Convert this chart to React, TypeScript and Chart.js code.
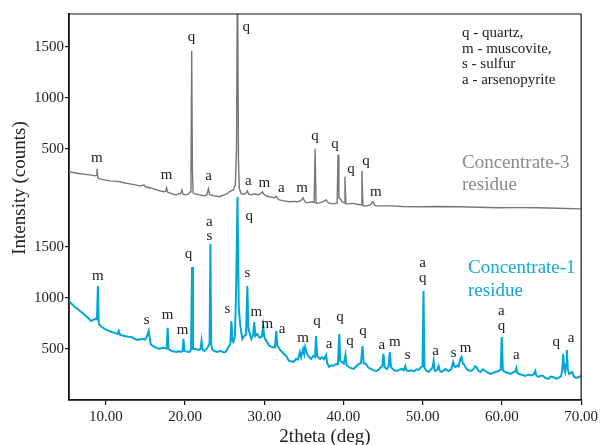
import React, { useEffect, useRef } from "react";
import { Chart, registerables } from "chart.js";

Chart.register(...registerables);

// ---- data ----
const UPPER_OFFSET = 1960; // vertical offset of the Concentrate-3 trace (counts)
const Y_TICKS = [500, 1000, 1500];
const X_TICKS = [10, 20, 30, 40, 50, 60, 70];

// Concentrate-3 residue (grey, upper trace): [2theta, counts relative to its own axis labels]
const concentrate3: [number, number][] = [
  [5.35, 275], [6.0, 265], [6.73, 255], [7.4, 250], [7.99, 245], [8.62, 235], [8.78, 240], [8.88, 304],
  [9.0, 215], [9.25, 206], [9.8, 195], [10.5, 186], [11.1, 183], [11.76, 177], [12.4, 165], [13.02, 157],
  [13.7, 147], [14.28, 137], [14.6, 140], [14.8, 147], [15.0, 128], [15.53, 118], [16.2, 105], [16.79, 88],
  [17.3, 80], [17.55, 85], [17.67, 118], [17.8, 75], [18.05, 69], [18.5, 55], [18.93, 49], [19.2, 60],
  [19.43, 59], [19.6, 98], [19.75, 55], [20.06, 49], [20.44, 59], [20.65, 80], [20.75, 300], [20.84, 1460],
  [20.93, 300], [21.02, 69], [21.2, 59], [21.5, 55], [21.82, 49], [22.1, 45], [22.45, 39], [22.75, 50],
  [22.96, 108], [23.1, 55], [23.2, 49], [23.45, 45], [23.71, 39], [24.0, 35], [24.34, 30], [24.6, 40],
  [24.97, 49], [25.3, 60], [25.6, 79], [25.85, 90], [26.1, 98], [26.35, 150], [26.5, 500], [26.62, 2400],
  [26.74, 400], [26.85, 110], [27.1, 59], [27.4, 55], [27.7, 65], [27.86, 88], [28.05, 55], [28.36, 49],
  [28.74, 59], [29.2, 50], [29.55, 60], [29.75, 79], [29.95, 55], [30.25, 39], [30.63, 30], [31.0, 25],
  [31.3, 20], [31.51, 35], [31.7, 10], [31.89, 0], [32.52, -10], [33.14, -19], [33.7, -15], [34.15, -19],
  [34.6, -10], [34.9, 20], [35.1, -15], [35.41, -29], [36.04, -19], [36.3, -25], [36.42, 500], [36.54, -35],
  [36.92, -29], [37.4, -20], [37.8, 0], [38.1, -30], [38.55, -39], [39.0, -35], [39.2, -30], [39.31, 441],
  [39.42, 20], [39.6, 10], [39.85, -20], [40.1, -29], [40.19, 226], [40.3, -39], [40.69, -39], [41.1, -35],
  [41.45, -39], [41.9, -45], [42.22, -49], [42.33, 284], [42.45, -59], [42.96, -59], [43.4, -50], [43.71, -19],
  [43.95, -55], [44.21, -59], [45.72, -59], [47.5, -65], [49.5, -68], [52.0, -65], [54.53, -68], [57.0, -72],
  [59.56, -78], [62.0, -76], [64.59, -78], [67.0, -82], [70.0, -88],
];

// Concentrate-1 residue (cyan, lower trace): [2theta, counts]
const concentrate1: [number, number][] = [
  [5.35, 970], [5.7, 940], [6.1, 911], [6.4, 895], [6.73, 872], [7.1, 850], [7.48, 823], [7.8, 800],
  [8.11, 774], [8.4, 785], [8.65, 794], [8.88, 790], [9.0, 1117], [9.1, 760], [9.2, 735], [9.5, 715],
  [9.87, 696], [10.3, 680], [10.75, 666], [11.2, 655], [11.5, 647], [11.64, 676], [11.8, 637], [12.1, 632],
  [12.39, 627], [12.8, 620], [13.27, 617], [13.6, 600], [14.03, 588], [14.3, 595], [14.65, 598], [14.9, 590],
  [15.16, 617], [15.41, 676], [15.55, 600], [15.66, 549], [15.9, 530], [16.16, 519], [16.5, 508], [16.79, 500],
  [17.1, 512], [17.42, 510], [17.68, 505], [17.8, 706], [17.92, 500], [18.1, 490], [18.3, 480], [18.6, 475],
  [18.93, 470], [19.2, 478], [19.5, 470], [19.68, 480], [19.8, 598], [19.93, 480], [20.2, 475], [20.57, 470],
  [20.76, 500], [20.88, 1303], [21.0, 500], [21.32, 500], [21.7, 490], [21.95, 500], [22.08, 578], [22.2, 490],
  [22.45, 480], [22.7, 500], [22.95, 529], [23.1, 560], [23.2, 1529], [23.3, 540], [23.45, 495], [23.71, 480],
  [23.9, 475], [24.09, 470], [24.35, 478], [24.59, 480], [24.85, 465], [25.09, 470], [25.3, 490], [25.47, 519],
  [25.72, 549], [25.85, 774], [25.98, 580], [26.1, 568], [26.3, 627], [26.45, 1088], [26.62, 1989], [26.78, 900],
  [26.98, 725], [27.23, 598], [27.48, 627], [27.7, 640], [27.86, 1117], [28.0, 700], [28.11, 666], [28.36, 598],
  [28.6, 640], [28.74, 764], [28.87, 627], [29.12, 647], [29.4, 610], [29.7, 620], [29.85, 725], [30.0, 620],
  [30.13, 598], [30.4, 560], [30.63, 529], [31.0, 519], [31.35, 515], [31.51, 676], [31.65, 530], [31.76, 519],
  [32.0, 490], [32.26, 470], [32.5, 450], [32.77, 431], [33.0, 400], [33.14, 382], [33.4, 380], [33.65, 372],
  [34.03, 402], [34.25, 395], [34.5, 470], [34.65, 420], [34.9, 500], [35.05, 450], [35.16, 519], [35.41, 451],
  [35.65, 420], [35.91, 402], [36.16, 431], [36.4, 420], [36.54, 627], [36.68, 430], [36.79, 421], [37.04, 402],
  [37.3, 420], [37.55, 400], [37.8, 441], [37.95, 360], [38.18, 323], [38.45, 340], [38.68, 333], [38.9, 345],
  [39.06, 353], [39.3, 350], [39.47, 647], [39.6, 380], [39.81, 372], [40.05, 355], [40.25, 441], [40.4, 340],
  [40.69, 323], [41.0, 310], [41.32, 304], [41.6, 330], [41.95, 353], [42.2, 360], [42.4, 529], [42.55, 360],
  [42.83, 353], [43.1, 320], [43.46, 304], [43.8, 290], [44.21, 284], [44.5, 300], [44.72, 323], [44.9, 330],
  [45.05, 451], [45.2, 320], [45.47, 304], [45.7, 330], [45.85, 470], [46.0, 320], [46.1, 314], [46.4, 290],
  [46.73, 284], [47.0, 295], [47.36, 304], [47.6, 290], [47.8, 333], [47.95, 290], [48.24, 284], [48.6, 290],
  [48.9, 280], [49.2, 300], [49.5, 294], [49.8, 323], [49.98, 330], [50.1, 1068], [50.22, 320], [50.4, 290],
  [50.75, 274], [51.05, 300], [51.25, 320], [51.38, 382], [51.5, 290], [51.64, 284], [51.85, 300], [52.01, 333],
  [52.15, 290], [52.39, 274], [52.65, 290], [52.89, 304], [53.1, 290], [53.27, 284], [53.6, 300], [53.85, 372],
  [54.0, 330], [54.15, 323], [54.4, 340], [54.55, 330], [54.75, 400], [54.9, 421], [55.05, 360], [55.16, 353],
  [55.35, 330], [55.53, 304], [55.8, 290], [56.04, 284], [56.4, 300], [56.6, 330], [56.79, 323], [57.0, 290],
  [57.3, 274], [57.6, 300], [57.92, 284], [58.2, 270], [58.55, 255], [58.9, 265], [59.18, 274], [59.56, 284],
  [59.85, 300], [59.98, 617], [60.12, 290], [60.44, 274], [60.75, 265], [61.07, 255], [61.4, 270], [61.7, 280],
  [61.82, 314], [61.95, 265], [62.2, 255], [62.6, 245], [62.96, 235], [63.3, 250], [63.7, 240], [64.0, 250],
  [64.21, 284], [64.35, 240], [64.59, 225], [64.9, 240], [65.22, 235], [65.5, 215], [65.85, 206], [66.15, 230],
  [66.48, 225], [66.8, 210], [67.11, 216], [67.35, 225], [67.48, 235], [67.62, 300], [67.74, 451], [67.88, 300],
  [67.99, 274], [68.1, 350], [68.2, 490], [68.32, 300], [68.49, 255], [68.7, 265], [68.87, 274], [69.1, 230],
  [69.37, 216], [69.7, 225], [70.0, 235],
];

// phase labels: [text, 2theta, counts where the label sits]
const upperPeakLabels: [string, number, number][] = [
  ["m", 8.87, 412], ["m", 17.67, 245], ["q", 20.82, 1590], ["a", 22.96, 235], ["q", 27.74, 1696],
  ["a", 27.99, 186], ["m", 30.0, 167], ["a", 32.14, 118], ["m", 34.78, 118], ["q", 36.42, 627],
  ["q", 38.93, 549], ["q", 40.94, 304], ["q", 42.83, 382], ["m", 44.09, 79],
];
const lowerPeakLabels: [string, number, number][] = [
  ["m", 8.99, 1215], ["s", 15.16, 784], ["m", 17.8, 833], ["m", 19.69, 686], ["q", 20.44, 1431],
  ["a", 23.08, 1744], ["s", 23.08, 1607], ["s", 25.35, 892], ["q", 28.11, 1803], ["s", 27.86, 1245],
  ["m", 29.0, 862], ["m", 30.38, 745], ["a", 32.26, 696], ["m", 34.9, 608], ["q", 36.67, 774],
  ["a", 38.18, 549], ["q", 39.56, 813], ["q", 40.82, 578], ["q", 42.45, 676], ["a", 44.84, 539],
  ["m", 46.48, 568], ["s", 48.11, 441], ["a", 50.0, 1343], ["q", 50.0, 1196], ["a", 51.64, 480],
  ["s", 53.9, 461], ["m", 55.4, 510], ["a", 59.94, 872], ["q", 59.94, 725], ["a", 61.82, 441],
  ["q", 66.86, 568], ["a", 68.74, 608],
];

const phaseKey = ["q - quartz,", "m - muscovite,", "s - sulfur", "a - arsenopyrite"];

const SERIF = '"Liberation Serif", "Times New Roman", serif';
const GREY = "#767676";
const CYAN = "#00a6d6";

const annotate = {
  id: "annotate",
  afterDatasetsDraw(chart: any) {
    const { ctx, chartArea, scales } = chart;
    const x = scales.x;
    const y = scales.y;
    ctx.save();
    // top and right frame
    ctx.strokeStyle = "#111";
    ctx.lineWidth = 1.2;
    ctx.beginPath();
    ctx.moveTo(chartArea.left, chartArea.top);
    ctx.lineTo(chartArea.right, chartArea.top);
    ctx.lineTo(chartArea.right, chartArea.bottom);
    ctx.stroke();

    // peak labels
    ctx.font = `15px ${SERIF}`;
    ctx.fillStyle = "#222";
    ctx.textAlign = "center";
    ctx.textBaseline = "middle";
    for (const [t, th, v] of upperPeakLabels) {
      ctx.fillText(t, x.getPixelForValue(th), y.getPixelForValue(v + UPPER_OFFSET));
    }
    for (const [t, th, v] of lowerPeakLabels) {
      ctx.fillText(t, x.getPixelForValue(th), y.getPixelForValue(v));
    }

    // phase key
    ctx.textAlign = "left";
    ctx.textBaseline = "alphabetic";
    ctx.fillStyle = "#1a1a1a";
    ctx.font = `15px ${SERIF}`;
    phaseKey.forEach((s, i) => ctx.fillText(s, 462, 37 + i * 15.6));

    // trace names
    ctx.font = `19px ${SERIF}`;
    ctx.fillStyle = "#8a8a8a";
    ctx.fillText("Concentrate-3", 462, 168);
    ctx.fillText("residue", 462, 190);
    ctx.fillStyle = "#12a8d6";
    ctx.fillText("Concentrate-1", 468, 273);
    ctx.fillText("residue", 468, 296);

    // axis titles
    ctx.fillStyle = "#222";
    ctx.font = `19px ${SERIF}`;
    ctx.textAlign = "center";
    ctx.textBaseline = "middle";
    ctx.fillText("2theta (deg)", 325, 437);
    ctx.translate(20, 188);
    ctx.rotate(-Math.PI / 2);
    ctx.fillText("Intensity (counts)", 0, 0);
    ctx.restore();
  },
};

export default function App() {
  const ref = useRef<HTMLCanvasElement>(null);
  useEffect(() => {
    if (!ref.current) return;
    const yTickValues = [...Y_TICKS, ...Y_TICKS.map((v) => v + UPPER_OFFSET)];
    const chart = new Chart(ref.current, {
      type: "line",
      data: {
        datasets: [
          {
            label: "Concentrate-3 residue",
            data: concentrate3.map(([t, c]) => ({ x: t, y: c + UPPER_OFFSET })),
            borderColor: GREY,
            borderWidth: 1.4,
            pointRadius: 0,
            tension: 0,
            fill: false,
          },
          {
            label: "Concentrate-1 residue",
            data: concentrate1.map(([t, c]) => ({ x: t, y: c })),
            borderColor: CYAN,
            borderWidth: 2,
            pointRadius: 0,
            tension: 0,
            fill: false,
          },
        ],
      },
      options: {
        responsive: false,
        animation: false,
        devicePixelRatio: 1,
        layout: { padding: { left: 0, right: 18, top: 14, bottom: 0 } },
        plugins: { legend: { display: false }, tooltip: { enabled: false }, title: { display: false } },
        scales: {
          x: {
            type: "linear",
            min: 5.35,
            max: 70,
            afterFit: (s: any) => {
              s.height = 45;
            },
            afterBuildTicks: (s: any) => {
              s.ticks = X_TICKS.map((v) => ({ value: v }));
            },
            ticks: {
              callback: (v: any) => Number(v).toFixed(2),
              color: "#222",
              font: { family: SERIF, size: 15 },
              padding: 3,
              maxRotation: 0,
              autoSkip: false,
            },
            grid: { display: true, drawOnChartArea: false, drawTicks: true, tickLength: 5, color: "#111", lineWidth: 1.2 },
            border: { display: true, color: "#111", width: 1.8 },
          },
          y: {
            type: "linear",
            min: 0,
            max: 3780,
            afterFit: (s: any) => {
              s.width = 69;
            },
            afterBuildTicks: (s: any) => {
              s.ticks = yTickValues.map((v) => ({ value: v }));
            },
            ticks: {
              callback: (v: any) => String(Number(v) > UPPER_OFFSET ? Number(v) - UPPER_OFFSET : Number(v)),
              color: "#222",
              font: { family: SERIF, size: 15 },
              padding: 1,
              autoSkip: false,
            },
            grid: { display: true, drawOnChartArea: false, drawTicks: true, tickLength: 4, color: "#111", lineWidth: 1.2 },
            border: { display: true, color: "#111", width: 1.8 },
          },
        },
      },
      plugins: [annotate],
    } as any);
    return () => chart.destroy();
  }, []);
  return (
    <div style={{ position: "absolute", left: 0, top: 0, width: 601, height: 445, background: "#fff" }}>
      <canvas ref={ref} width={601} height={445} style={{ display: "block", width: 601, height: 445 }} />
    </div>
  );
}
